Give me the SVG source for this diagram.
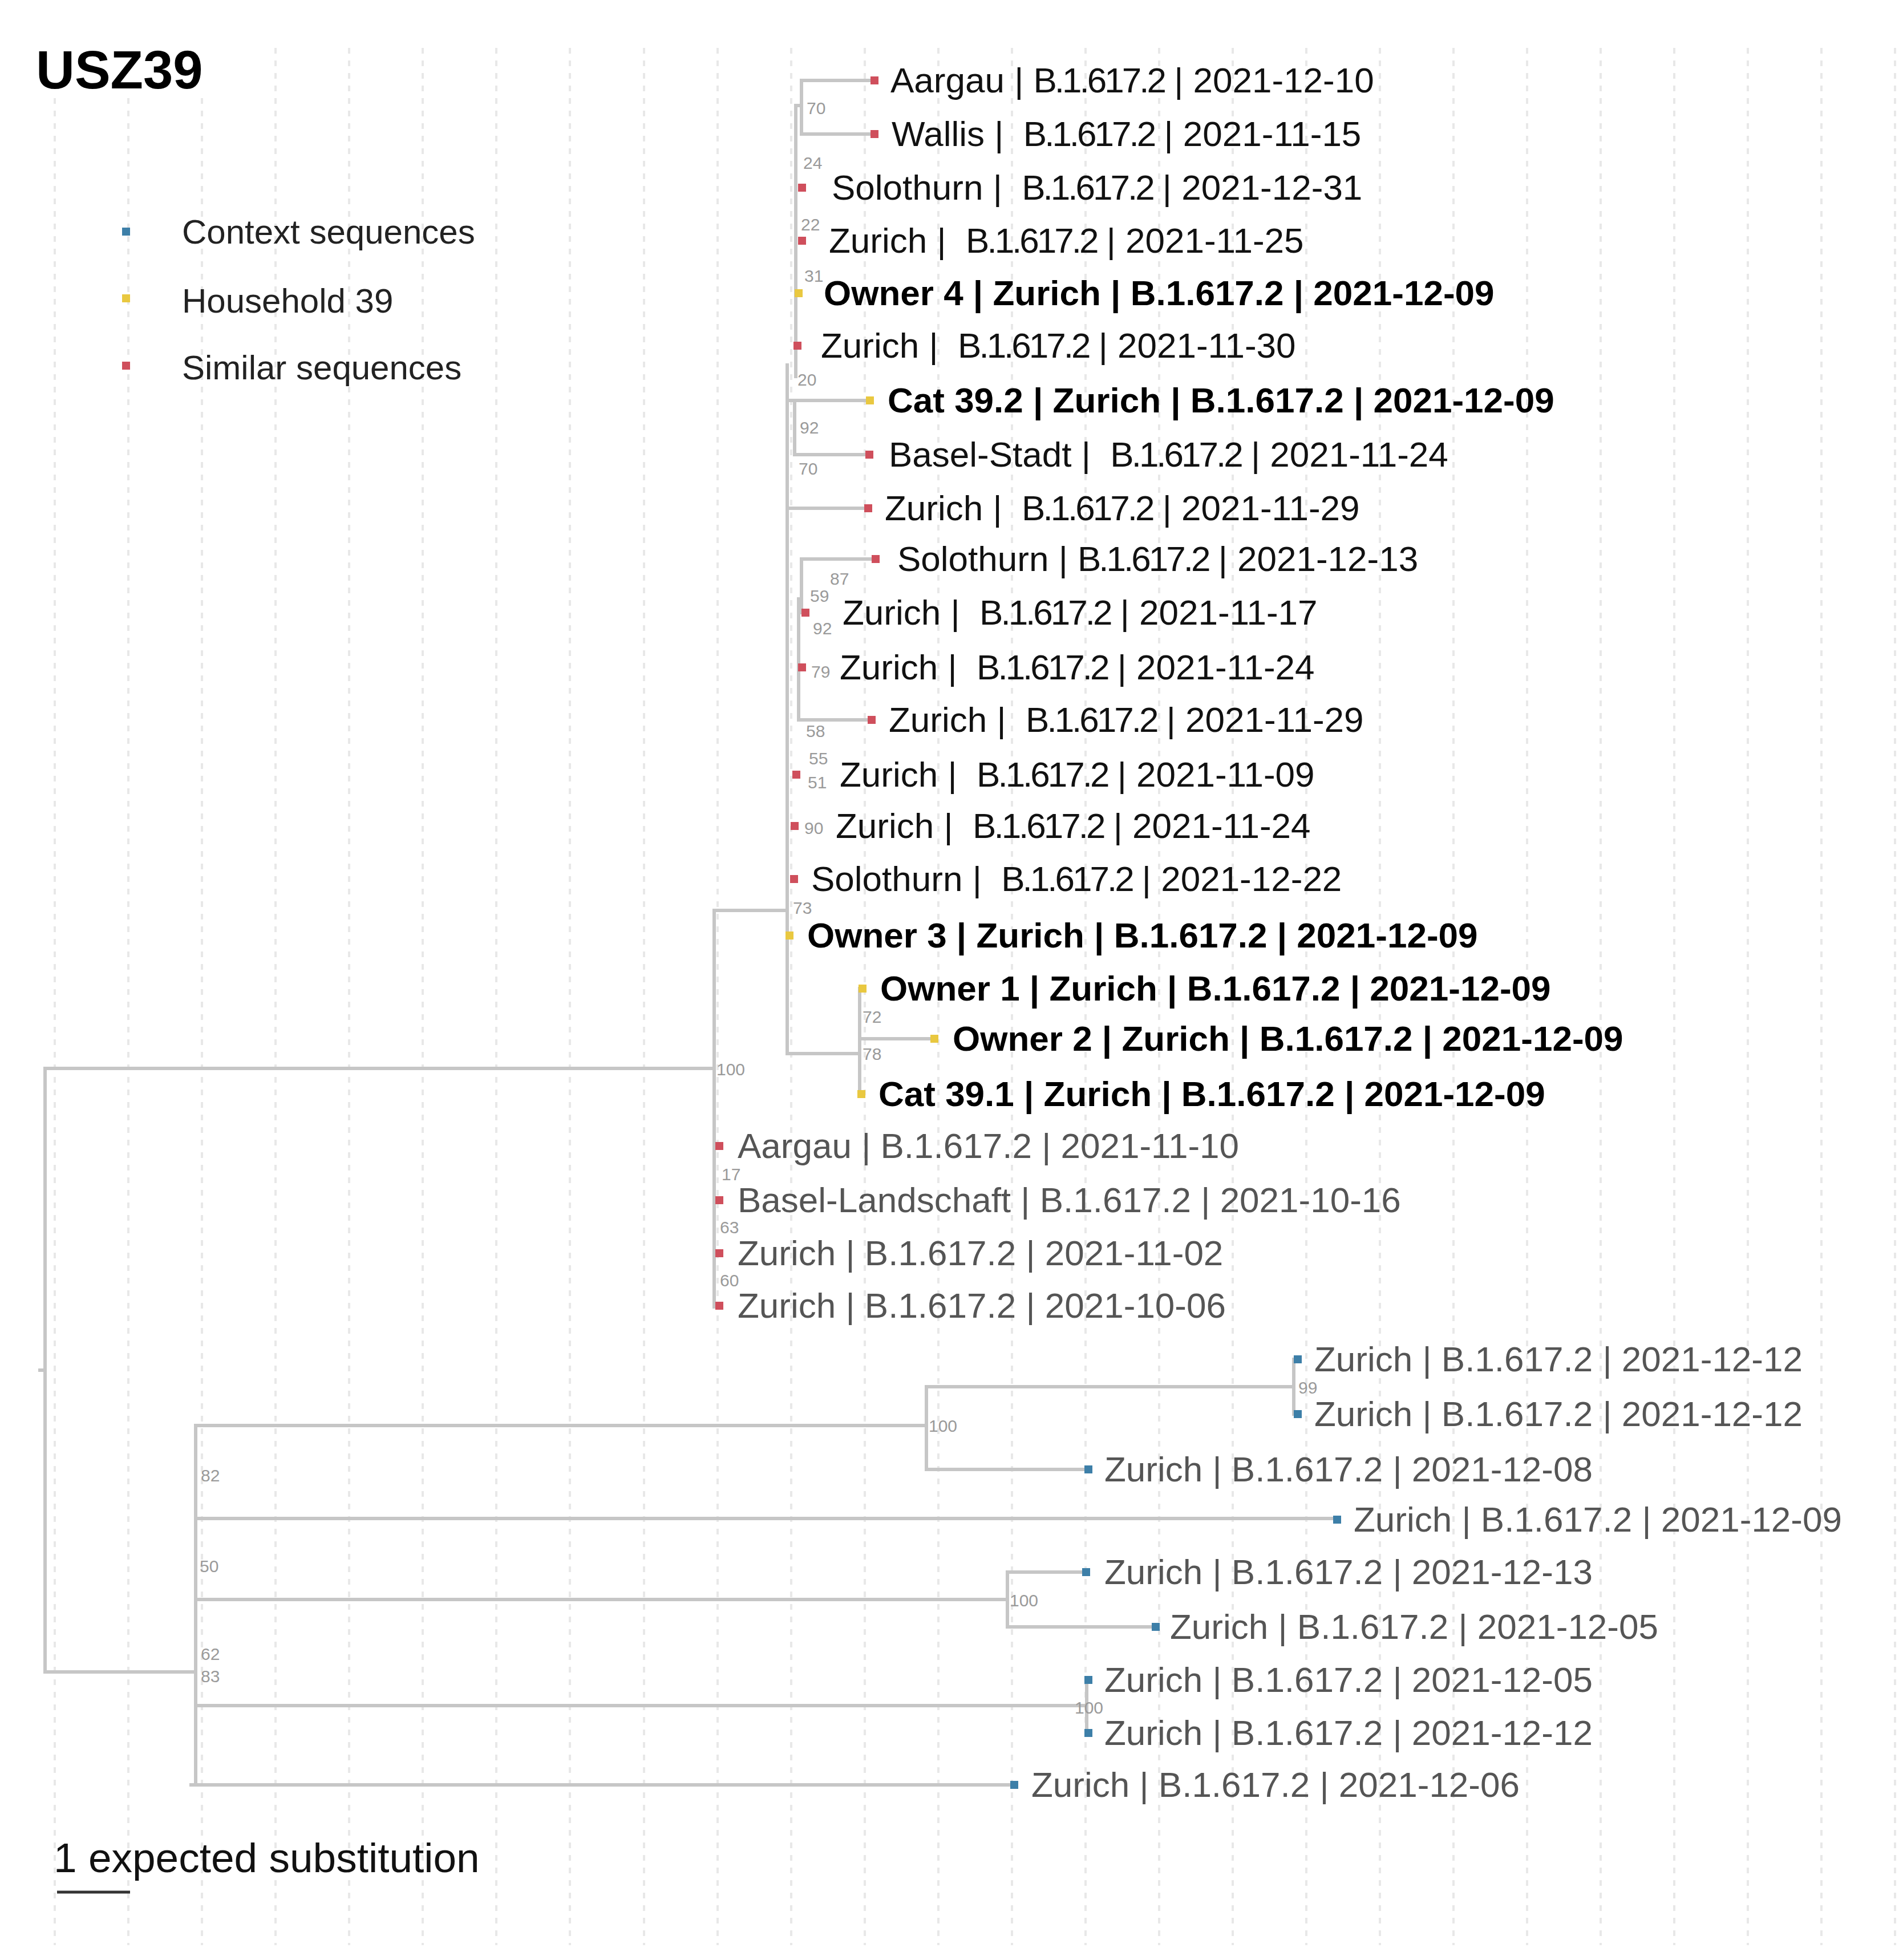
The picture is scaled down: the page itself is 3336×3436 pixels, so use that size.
<svg xmlns="http://www.w3.org/2000/svg" width="3336" height="3436" viewBox="0 0 3336 3436">
<style>
text{font-family:"Liberation Sans",Arial,Helvetica,sans-serif}
.grid line{stroke:#e8e8e8;stroke-width:4;stroke-dasharray:10 12}
.br{stroke:#c6c6c6;stroke-width:6;fill:none;stroke-linecap:square}
.lbl{font-size:62px;fill:#111}
.b{font-weight:bold;fill:#000}
.ctx{fill:#555}
.bs{font-size:30px;fill:#9a9a9a}
.red{fill:#cf4f5c}
.yel{fill:#e9c840}
.blu{fill:#3d7fa8}
</style>
<rect width="3336" height="3436" fill="#fff"/>
<g class="grid">
<line x1="96" y1="172" x2="96" y2="3410"/><line x1="225" y1="172" x2="225" y2="3410"/><line x1="354" y1="172" x2="354" y2="3410"/><line x1="483" y1="84" x2="483" y2="3410"/><line x1="612" y1="84" x2="612" y2="3410"/><line x1="741" y1="84" x2="741" y2="3410"/><line x1="870" y1="84" x2="870" y2="3410"/><line x1="999" y1="84" x2="999" y2="3410"/><line x1="1129" y1="84" x2="1129" y2="3410"/><line x1="1258" y1="84" x2="1258" y2="3410"/><line x1="1387" y1="84" x2="1387" y2="3410"/><line x1="1516" y1="84" x2="1516" y2="3410"/><line x1="1645" y1="84" x2="1645" y2="3410"/><line x1="1774" y1="84" x2="1774" y2="3410"/><line x1="1903" y1="84" x2="1903" y2="3410"/><line x1="2032" y1="84" x2="2032" y2="3410"/><line x1="2161" y1="84" x2="2161" y2="3410"/><line x1="2290" y1="84" x2="2290" y2="3410"/><line x1="2419" y1="84" x2="2419" y2="3410"/><line x1="2548" y1="84" x2="2548" y2="3410"/><line x1="2677" y1="84" x2="2677" y2="3410"/><line x1="2806" y1="84" x2="2806" y2="3410"/><line x1="2935" y1="84" x2="2935" y2="3410"/><line x1="3064" y1="84" x2="3064" y2="3410"/><line x1="3193" y1="84" x2="3193" y2="3410"/><line x1="3322" y1="84" x2="3322" y2="3410"/>
</g>
<g id="title"><text x="63" y="155" font-size="94" font-weight="bold" fill="#000">USZ39</text></g>
<g id="legend">
<rect x="214" y="399" width="14" height="14" class="blu"/>
<rect x="214" y="516" width="14" height="14" class="yel"/>
<rect x="214" y="634" width="14" height="14" class="red"/>
<text x="319" y="427" font-size="60" fill="#222">Context sequences</text>
<text x="319" y="548" font-size="60" fill="#222">Household 39</text>
<text x="319" y="665" font-size="60" fill="#222">Similar sequences</text>
</g>
<g id="connectors" class="br">
<path d="M70 2402H79M79 1873V2931M79 1873H1252M79 2931H343"/>
<path d="M1252 1596V2291M1252 1596H1380M1380 640V1847M1380 1847H1507M1507 1733V1918M1507 1821H1632"/>
<path d="M1395 185V660M1395 185H1405M1405 141V235M1405 141H1525M1405 235H1525"/>
<path d="M1380 702H1518M1393 702V797M1393 797H1516M1385 891H1514"/>
<path d="M1405 980V1074M1405 980H1527M1400 1050V1262M1400 1262H1520"/>
<path d="M343 2499V3129M343 2499H1624M1624 2431V2576M1624 2431H2268M2268 2383V2479M1624 2576H1900"/>
<path d="M343 2662H2337M343 2804H1766M1766 2756V2852M1766 2756H1897M1766 2852H2019"/>
<path d="M343 2990H1905M1905 2945V3038M335 3129H1771"/>
</g>
<g id="bootstrap">
<text class="bs" x="1414" y="200">70</text>
<text class="bs" x="1408" y="296">24</text>
<text class="bs" x="1404" y="404">22</text>
<text class="bs" x="1410" y="494">31</text>
<text class="bs" x="1398" y="676">20</text>
<text class="bs" x="1402" y="760">92</text>
<text class="bs" x="1400" y="832">70</text>
<text class="bs" x="1455" y="1025">87</text>
<text class="bs" x="1420" y="1055">59</text>
<text class="bs" x="1425" y="1112">92</text>
<text class="bs" x="1422" y="1188">79</text>
<text class="bs" x="1413" y="1292">58</text>
<text class="bs" x="1418" y="1340">55</text>
<text class="bs" x="1416" y="1382">51</text>
<text class="bs" x="1410" y="1462">90</text>
<text class="bs" x="1390" y="1602">73</text>
<text class="bs" x="1512" y="1793">72</text>
<text class="bs" x="1512" y="1858">78</text>
<text class="bs" x="1256" y="1885">100</text>
<text class="bs" x="1265" y="2069">17</text>
<text class="bs" x="1262" y="2162">63</text>
<text class="bs" x="1262" y="2255">60</text>
<text class="bs" x="2276" y="2443">99</text>
<text class="bs" x="1628" y="2510">100</text>
<text class="bs" x="1770" y="2816">100</text>
<text class="bs" x="1884" y="3004" font-size="28">100</text>
<text class="bs" x="352" y="2597">82</text>
<text class="bs" x="350" y="2756">50</text>
<text class="bs" x="352" y="2910">62</text>
<text class="bs" x="352" y="2949">83</text>
</g>
<g id="leaf1"><rect class="red" x="1526" y="134" width="14" height="14"/><text class="lbl" x="1561" y="162">Aargau | <tspan letter-spacing="-4">B.1.617.2</tspan> | 2021-12-10</text></g>
<g id="leaf2"><rect class="red" x="1526" y="228" width="14" height="14"/><text class="lbl" x="1563" y="256" xml:space="preserve">Wallis |  <tspan letter-spacing="-4">B.1.617.2</tspan> | 2021-11-15</text></g>
<g id="leaf3"><rect class="red" x="1399" y="322" width="14" height="14"/><text class="lbl" x="1458" y="350" xml:space="preserve">Solothurn |  <tspan letter-spacing="-4">B.1.617.2</tspan> | 2021-12-31</text></g>
<g id="leaf4"><rect class="red" x="1399" y="415" width="14" height="14"/><text class="lbl" x="1453" y="443" xml:space="preserve">Zurich |  <tspan letter-spacing="-4">B.1.617.2</tspan> | 2021-11-25</text></g>
<g id="leaf5"><rect class="yel" x="1393" y="507" width="14" height="14"/><text class="lbl b" x="1444" y="535">Owner 4 | Zurich | B.1.617.2 | 2021-12-09</text></g>
<g id="leaf6"><rect class="red" x="1391" y="599" width="14" height="14"/><text class="lbl" x="1439" y="627" xml:space="preserve">Zurich |  <tspan letter-spacing="-4">B.1.617.2</tspan> | 2021-11-30</text></g>
<g id="leaf7"><rect class="yel" x="1518" y="695" width="14" height="14"/><text class="lbl b" x="1556" y="723">Cat 39.2 | Zurich | B.1.617.2 | 2021-12-09</text></g>
<g id="leaf8"><rect class="red" x="1517" y="790" width="14" height="14"/><text class="lbl" x="1558" y="818" xml:space="preserve">Basel-Stadt |  <tspan letter-spacing="-4">B.1.617.2</tspan> | 2021-11-24</text></g>
<g id="leaf9"><rect class="red" x="1515" y="884" width="14" height="14"/><text class="lbl" x="1551" y="912" xml:space="preserve">Zurich |  <tspan letter-spacing="-4">B.1.617.2</tspan> | 2021-11-29</text></g>
<g id="leaf10"><rect class="red" x="1528" y="973" width="14" height="14"/><text class="lbl" x="1573" y="1001">Solothurn | <tspan letter-spacing="-4">B.1.617.2</tspan> | 2021-12-13</text></g>
<g id="leaf11"><rect class="red" x="1405" y="1067" width="14" height="14"/><text class="lbl" x="1477" y="1095" xml:space="preserve">Zurich |  <tspan letter-spacing="-4">B.1.617.2</tspan> | 2021-11-17</text></g>
<g id="leaf12"><rect class="red" x="1399" y="1163" width="14" height="14"/><text class="lbl" x="1472" y="1191" xml:space="preserve">Zurich |  <tspan letter-spacing="-4">B.1.617.2</tspan> | 2021-11-24</text></g>
<g id="leaf13"><rect class="red" x="1521" y="1255" width="14" height="14"/><text class="lbl" x="1558" y="1283" xml:space="preserve">Zurich |  <tspan letter-spacing="-4">B.1.617.2</tspan> | 2021-11-29</text></g>
<g id="leaf14"><rect class="red" x="1389" y="1351" width="14" height="14"/><text class="lbl" x="1472" y="1379" xml:space="preserve">Zurich |  <tspan letter-spacing="-4">B.1.617.2</tspan> | 2021-11-09</text></g>
<g id="leaf15"><rect class="red" x="1386" y="1441" width="14" height="14"/><text class="lbl" x="1465" y="1469" xml:space="preserve">Zurich |  <tspan letter-spacing="-4">B.1.617.2</tspan> | 2021-11-24</text></g>
<g id="leaf16"><rect class="red" x="1385" y="1534" width="14" height="14"/><text class="lbl" x="1422" y="1562" xml:space="preserve">Solothurn |  <tspan letter-spacing="-4">B.1.617.2</tspan> | 2021-12-22</text></g>
<g id="leaf17"><rect class="yel" x="1377" y="1633" width="14" height="14"/><text class="lbl b" x="1415" y="1661">Owner 3 | Zurich | B.1.617.2 | 2021-12-09</text></g>
<g id="leaf18"><rect class="yel" x="1505" y="1726" width="14" height="14"/><text class="lbl b" x="1543" y="1754">Owner 1 | Zurich | B.1.617.2 | 2021-12-09</text></g>
<g id="leaf19"><rect class="yel" x="1631" y="1814" width="14" height="14"/><text class="lbl b" x="1670" y="1842">Owner 2 | Zurich | B.1.617.2 | 2021-12-09</text></g>
<g id="leaf20"><rect class="yel" x="1503" y="1911" width="14" height="14"/><text class="lbl b" x="1540" y="1939">Cat 39.1 | Zurich | B.1.617.2 | 2021-12-09</text></g>
<g id="leaf21"><rect class="red" x="1254" y="2002" width="14" height="14"/><text class="lbl ctx" x="1293" y="2030">Aargau | B.1.617.2 | 2021-11-10</text></g>
<g id="leaf22"><rect class="red" x="1254" y="2097" width="14" height="14"/><text class="lbl ctx" x="1293" y="2125">Basel-Landschaft | B.1.617.2 | 2021-10-16</text></g>
<g id="leaf23"><rect class="red" x="1254" y="2190" width="14" height="14"/><text class="lbl ctx" x="1293" y="2218">Zurich | B.1.617.2 | 2021-11-02</text></g>
<g id="leaf24"><rect class="red" x="1254" y="2282" width="14" height="14"/><text class="lbl ctx" x="1293" y="2310">Zurich | B.1.617.2 | 2021-10-06</text></g>
<g id="leaf25"><rect class="blu" x="2268" y="2376" width="14" height="14"/><text class="lbl ctx" x="2304" y="2404">Zurich | B.1.617.2 | 2021-12-12</text></g>
<g id="leaf26"><rect class="blu" x="2268" y="2472" width="14" height="14"/><text class="lbl ctx" x="2304" y="2500">Zurich | B.1.617.2 | 2021-12-12</text></g>
<g id="leaf27"><rect class="blu" x="1901" y="2569" width="14" height="14"/><text class="lbl ctx" x="1936" y="2597">Zurich | B.1.617.2 | 2021-12-08</text></g>
<g id="leaf28"><rect class="blu" x="2337" y="2657" width="14" height="14"/><text class="lbl ctx" x="2373" y="2685">Zurich | B.1.617.2 | 2021-12-09</text></g>
<g id="leaf29"><rect class="blu" x="1897" y="2749" width="14" height="14"/><text class="lbl ctx" x="1936" y="2777">Zurich | B.1.617.2 | 2021-12-13</text></g>
<g id="leaf30"><rect class="blu" x="2019" y="2845" width="14" height="14"/><text class="lbl ctx" x="2051" y="2873">Zurich | B.1.617.2 | 2021-12-05</text></g>
<g id="leaf31"><rect class="blu" x="1901" y="2938" width="14" height="14"/><text class="lbl ctx" x="1936" y="2966">Zurich | B.1.617.2 | 2021-12-05</text></g>
<g id="leaf32"><rect class="blu" x="1901" y="3031" width="14" height="14"/><text class="lbl ctx" x="1936" y="3059">Zurich | B.1.617.2 | 2021-12-12</text></g>
<g id="leaf33"><rect class="blu" x="1771" y="3122" width="14" height="14"/><text class="lbl ctx" x="1808" y="3150">Zurich | B.1.617.2 | 2021-12-06</text></g>
<g id="scalebar">
<text x="94" y="3282" font-size="73" fill="#111">1 expected substitution</text>
<line x1="100" y1="3317" x2="228" y2="3317" stroke="#333" stroke-width="5"/>
</g>
</svg>
